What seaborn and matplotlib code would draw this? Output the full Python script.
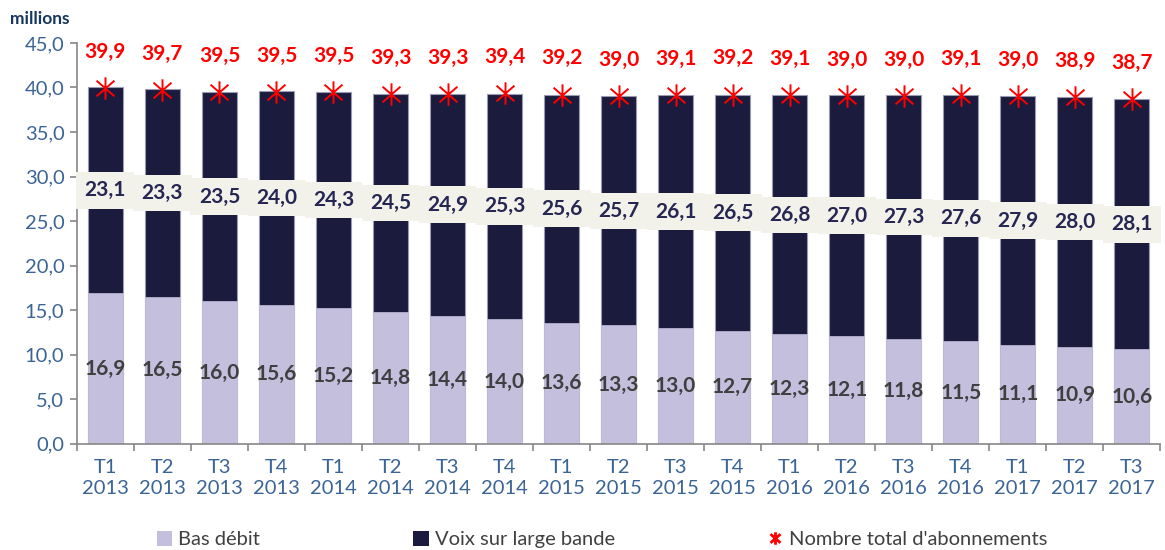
import numpy as np
import pandas as pd
import matplotlib
matplotlib.use("Agg")
import matplotlib.pyplot as plt
from matplotlib.patches import Patch
from matplotlib.lines import Line2D
from matplotlib.path import Path
import seaborn as sns

quarters = ["T1", "T2", "T3", "T4", "T1", "T2", "T3", "T4", "T1", "T2",
            "T3", "T4", "T1", "T2", "T3", "T4", "T1", "T2", "T3"]
years = ["2013", "2013", "2013", "2013", "2014", "2014", "2014", "2014", "2015", "2015",
         "2015", "2015", "2016", "2016", "2016", "2016", "2017", "2017", "2017"]
bas_debit = [16.9, 16.5, 16.0, 15.6, 15.2, 14.8, 14.4, 14.0, 13.6, 13.3,
             13.0, 12.7, 12.3, 12.1, 11.8, 11.5, 11.1, 10.9, 10.6]
voix_large_bande = [23.1, 23.3, 23.5, 24.0, 24.3, 24.5, 24.9, 25.3, 25.6, 25.7,
                    26.1, 26.5, 26.8, 27.0, 27.3, 27.6, 27.9, 28.0, 28.1]
total_abonnements = [39.9, 39.7, 39.5, 39.5, 39.5, 39.3, 39.3, 39.4, 39.2, 39.0,
                     39.1, 39.2, 39.1, 39.0, 39.0, 39.1, 39.0, 38.9, 38.7]
yticks = [0, 5, 10, 15, 20, 25, 30, 35, 40, 45]

labels = [f"{q}\n{y}" for q, y in zip(quarters, years)]
df = pd.DataFrame({"periode": labels, "bas": bas_debit, "voix": voix_large_bande,
                   "total": total_abonnements})
df["stack"] = df["bas"] + df["voix"]

c_bas = "#C3BFDD"
c_voix = "#1B1B3E"
c_red = "#FF0000"
c_tick = "#3B6496"

# Excel-style star marker: vertical stroke plus an X
star = Path([(0, -1), (0, 1), (-0.8, -0.7), (0.8, 0.7), (-0.8, 0.7), (0.8, -0.7)],
            [Path.MOVETO, Path.LINETO, Path.MOVETO, Path.LINETO, Path.MOVETO, Path.LINETO])

sns.set_theme(style="white")
plt.rcParams["font.family"] = ["Lato", "DejaVu Sans"]

fig = plt.figure(figsize=(11.65, 5.5), dpi=100)
ax = fig.add_axes([0.066, 0.193, 0.93, 0.729])

sns.barplot(data=df, x="periode", y="stack", color=c_voix, width=0.61,
            edgecolor="#9A9AB5", linewidth=0.8, saturation=1, ax=ax)
sns.barplot(data=df, x="periode", y="bas", color=c_bas, width=0.61,
            edgecolor=c_bas, linewidth=0.5, saturation=1, ax=ax)

pos = np.arange(len(df))
sns.scatterplot(x=pos, y=df["total"], marker=star, s=260, color=c_red,
                linewidth=1.4, edgecolor=c_red, ax=ax, zorder=5, legend=False)

fmt = lambda v: f"{v:.1f}".replace(".", ",")
for i, row in df.iterrows():
    ax.text(i, row["bas"] / 2, fmt(row["bas"]), ha="center", va="center",
            fontsize=15, fontweight="bold", color="#3F3F3F", zorder=6)
    ax.text(i, row["bas"] + row["voix"] / 2, fmt(row["voix"]), ha="center", va="center",
            fontsize=15, fontweight="bold", color="#262653", zorder=6,
            bbox=dict(boxstyle="square,pad=0.4", facecolor="#F2F2EB", edgecolor="none"))
    ax.annotate(fmt(row["total"]), xy=(i, row["total"]), xytext=(0, 26),
                textcoords="offset points", ha="center", va="center",
                fontsize=15, fontweight="bold", color=c_red, zorder=6)

ax.set_ylim(0, 45)
ax.set_xlim(-0.5, len(df) - 0.5)
ax.set_yticks(yticks)
ax.set_yticklabels([fmt(v) for v in yticks], color=c_tick, fontsize=14.5)
ax.set_xlabel("")
ax.set_ylabel("")
ax.set_xticks(pos)
ax.set_xticklabels(labels, color=c_tick, fontsize=14.5, linespacing=1.3)
ax.set_xticks(np.arange(-0.5, len(df), 1.0), minor=True)
ax.tick_params(axis="x", which="major", length=0, pad=11)
ax.tick_params(axis="x", which="minor", length=5, width=1.2, color="#868686", direction="out",
               bottom=True)
ax.tick_params(axis="y", which="major", length=5, width=1.2, color="#868686", direction="out",
               left=True, pad=4)
for s in ["top", "right"]:
    ax.spines[s].set_visible(False)
for s in ["left", "bottom"]:
    ax.spines[s].set_color("#868686")
    ax.spines[s].set_linewidth(1.2)
ax.grid(False)

fig.text(0.009, 0.965, "millions", fontsize=12.5, fontweight="bold", color="#17375E",
         ha="left", va="center")

handles = [
    Patch(facecolor=c_bas, edgecolor="none"),
    Patch(facecolor=c_voix, edgecolor="none"),
    Line2D([], [], marker=star, color=c_red, linestyle="none", markersize=9,
           markeredgewidth=2.0),
]
fig.legend(handles, ["Bas débit", "Voix sur large bande", "Nombre total d'abonnements"],
           loc="lower center", bbox_to_anchor=(0.517, -0.03), ncol=3, frameon=False,
           fontsize=14.5, labelcolor="#404040", handlelength=0.75, handleheight=0.75,
           handletextpad=0.3, columnspacing=7.6)

fig.savefig("out.png", dpi=100)
